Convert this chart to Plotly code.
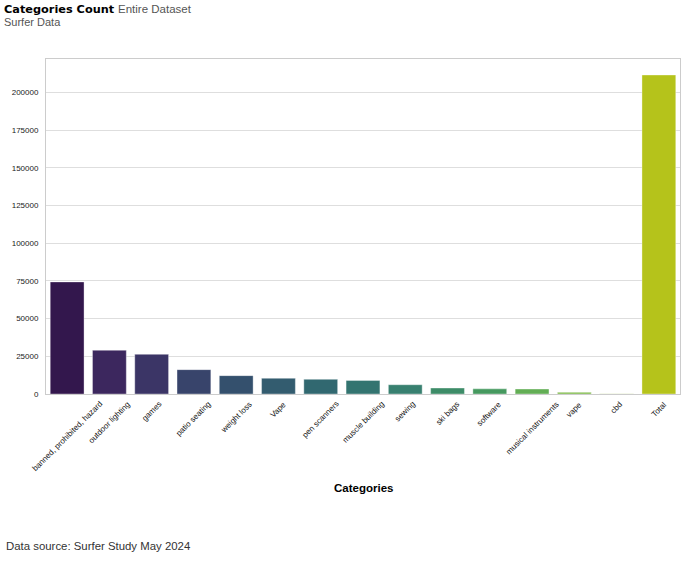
import plotly.graph_objects as go

categories = ["banned, prohibited, hazard", "outdoor lighting", "games", "patio seating",
              "weight loss", "Vape", "pen scanners", "muscle building", "sewing", "ski bags",
              "software", "musical instruments", "vape", "cbd", "Total"]
counts = [74300, 29000, 26300, 16150, 12170, 10400, 9700, 9000, 6140, 3950,
          3400, 3300, 1100, 200, 211500]
y_ticks = [0, 25000, 50000, 75000, 100000, 125000, 150000, 175000, 200000]
y_tick_labels = ["0", "25000", "50000", "75000", "100000", "125000", "150000", "175000", "200000"]

bar_colors = ["#33174d", "#3c275e", "#3b3566", "#38446b", "#34506d", "#335c6f", "#316870",
              "#337470", "#388070", "#3d8c68", "#46995f", "#63ae55", "#80bb4c", "#b9d27a",
              "#b5c31b"]

PL, PR, PT, PB = 46, 680, 59, 394  # plot area in window pixels
W, H = 685, 568
L, T = PL, PT
R = W - PR
B = H - PB
plot_h = PB - PT
plot_w = PR - PL


def px_y(py):
    return (PB - py) / plot_h


def px_x(px):
    return (px - PL) / plot_w


fig = go.Figure(go.Bar(
    x=categories, y=counts,
    marker=dict(color=bar_colors, line=dict(width=0.6, color="rgba(255,255,255,0.6)")),
    hoverinfo="skip",
))

fig.update_layout(
    width=W, height=H,
    margin=dict(l=L, r=R, t=T, b=B, autoexpand=False),
    paper_bgcolor="white", plot_bgcolor="white",
    bargap=0.2,
    showlegend=False,
    font=dict(family="Liberation Sans, Arial, sans-serif", color="#222"),
)
fig.update_xaxes(
    type="category", range=[-0.5, 14.5],
    showticklabels=False,
    showline=True, linecolor="#cccccc", linewidth=1, mirror=True,
    showgrid=False, ticks="", automargin=False,
)
fig.update_yaxes(
    range=[0, 222100], tickvals=y_ticks, ticktext=y_tick_labels,
    tickfont=dict(size=8, color="#222"),
    showline=True, linecolor="#cccccc", linewidth=1, mirror=True,
    showgrid=True, gridcolor="#dedede", gridwidth=1, zeroline=False,
    ticks="", ticklabelstandoff=5, automargin=False,
)

# rotated x tick labels centred on each category (matplotlib ha='center' style)
for cat in categories:
    fig.add_annotation(xref="x", yref="paper", x=cat, y=px_y(397),
                       xanchor="center", yanchor="top", showarrow=False,
                       textangle=-45, text=cat,
                       font=dict(family="Liberation Sans, Arial", size=8, color="#111"))

fig.add_annotation(xref="paper", yref="paper", x=px_x(2), y=px_y(9),
                   xanchor="left", yanchor="middle", showarrow=False,
                   text="<b>Categories Count</b>",
                   font=dict(family="DejaVu Sans", size=11.3, color="#000"))
fig.add_annotation(xref="paper", yref="paper", x=px_x(116), y=px_y(9),
                   xanchor="left", yanchor="middle", showarrow=False,
                   text="Entire Dataset",
                   font=dict(family="Liberation Sans, Arial", size=11.5, color="#555"))
fig.add_annotation(xref="paper", yref="paper", x=px_x(2), y=px_y(22),
                   xanchor="left", yanchor="middle", showarrow=False,
                   text="Surfer Data",
                   font=dict(family="Liberation Sans, Arial", size=11, color="#555"))
fig.add_annotation(xref="paper", yref="paper", x=0.5, y=px_y(488),
                   xanchor="center", yanchor="middle", showarrow=False,
                   text="<b>Categories</b>",
                   font=dict(family="Liberation Sans, Arial", size=11.5, color="#000"))
fig.add_annotation(xref="paper", yref="paper", x=px_x(4), y=px_y(546),
                   xanchor="left", yanchor="middle", showarrow=False,
                   text="Data source: Surfer Study May 2024",
                   font=dict(family="Liberation Sans, Arial", size=11.4, color="#333"))

fig.write_html("out.html", config={"displayModeBar": False},
               post_script="document.body.style.margin='0';")
